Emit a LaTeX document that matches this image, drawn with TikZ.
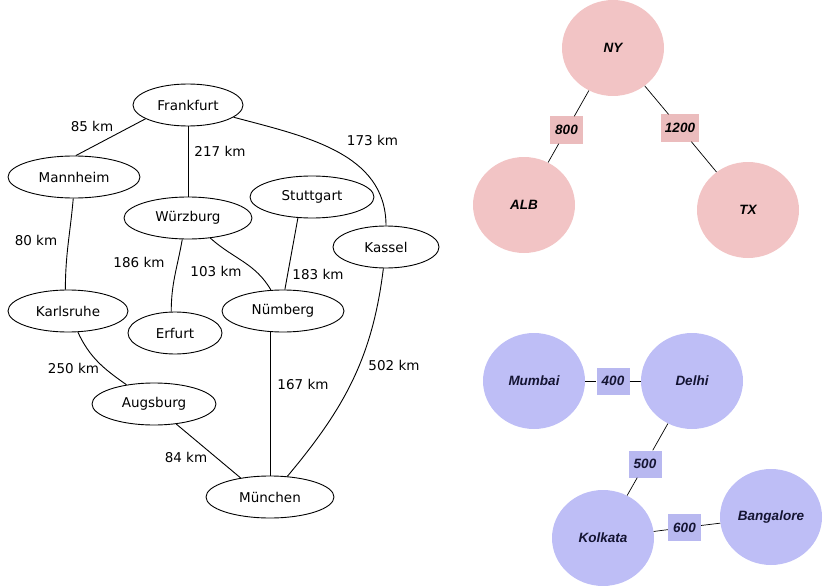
\documentclass[tikz,border=0pt]{standalone}
\usepackage{fontspec}
\setmainfont{DejaVu Sans}
\newfontfamily\lblfont{Liberation Sans}
\usetikzlibrary{shapes.geometric}
\definecolor{pinkc}{RGB}{242,196,197}
\definecolor{pinkb}{RGB}{235,188,189}
\definecolor{bluec}{RGB}{190,190,246}
\definecolor{blueb}{RGB}{184,184,240}
\definecolor{navy}{RGB}{20,20,50}
\tikzset{
  city/.style={draw, ellipse, line width=0.9pt, inner sep=0pt, font=\fontsize{13.5}{15}\selectfont},
  km/.style={font=\fontsize{13.5}{15}\selectfont, inner sep=0pt},
  road/.style={line width=0.9pt},
  disc/.style={ellipse, minimum width=102pt, minimum height=96pt, inner sep=0pt, font=\lblfont\bfseries\itshape\fontsize{13.5}{15}\selectfont},
  wbox/.style={rectangle, minimum height=27pt, minimum width=33pt, inner xsep=4pt, inner ysep=0pt, font=\lblfont\bfseries\itshape\fontsize{13.5}{15}\selectfont},
  link/.style={line width=0.7pt}
}
\begin{document}
\begin{tikzpicture}[x=1pt,y=-1pt]
\useasboundingbox (0,0) rectangle (823,586);
% left graph
\node[city, minimum width=110pt, minimum height=42pt] (fra) at (188,105) {Frankfurt};
\node[city, minimum width=132pt, minimum height=42pt] (man) at (74,177) {Mannheim};
\node[city, minimum width=128pt, minimum height=42pt] (wur) at (188,218) {Würzburg};
\node[city, minimum width=124pt, minimum height=42pt] (stu) at (312,197) {Stuttgart};
\node[city, minimum width=106pt, minimum height=42pt] (kas) at (386,247) {Kassel};
\node[city, minimum width=120pt, minimum height=42pt] (kar) at (68,311) {Karlsruhe};
\node[city, minimum width=94pt, minimum height=42pt] (erf) at (175,333) {Erfurt};
\node[city, minimum width=122pt, minimum height=42pt] (nur) at (283,311) {Nümberg};
\node[city, minimum width=124pt, minimum height=42pt] (aug) at (154,404) {Augsburg};
\node[city, minimum width=128pt, minimum height=42pt] (mun) at (270,497) {München};

\draw[road] (fra.198) -- (man.85);
\draw[road] (fra.south) -- (wur.north);
\draw[road] (fra) to[out=-15,in=90] (kas);
\draw[road] (man.268) to[out=-95,in=90] (kar.97);
\draw[road] (wur.255) to[out=-100,in=90] (erf.100);
\draw[road] (wur) to[out=-42,in=120] (nur);
\draw[road] (stu.236) -- (nur.85);
\draw[road] (kas) to[out=-97,in=50] (mun);
\draw[road] (kar) to[out=-65,in=145] (aug);
\draw[road] (nur.south -| mun.north) -- (mun.north);
\draw[road] (aug.-42) -- (mun.147);

\node[km] (l1) at (92,126) {85 km};
\node[km] (l2) at (220,151) {217 km};
\node[km] (l3) at (372.5,140) {173 km};
\node[km] (l4) at (36,240) {80 km};
\node[km] (l5) at (139,262) {186 km};
\node[km] (l6) at (216,271) {103 km};
\node[km] (l7) at (318,274) {183 km};
\node[km] (l8) at (73.5,368) {250 km};
\node[km] (l9) at (303,384) {167 km};
\node[km] (l10) at (394,365) {502 km};
\node[km] (l11) at (186,457) {84 km};

% top right
\node[disc, fill=pinkc] (ny) at (613,48) {NY};
\node[disc, fill=pinkc] (alb) at (524,205) {ALB};
\node[disc, fill=pinkc] (tx) at (748,210) {TX};
\node[wbox, fill=pinkb] (w800) at (566.5,130) {800};
\node[wbox, fill=pinkb] (w1200) at (680,128) {1200};
\draw[link] (ny) -- (w800) -- (alb);
\draw[link] (ny) -- (w1200) -- (tx);

% bottom right
\node[disc, fill=bluec, text=navy] (mum) at (534,381) {Mumbai};
\node[disc, fill=bluec, text=navy] (del) at (692,381) {Delhi};
\node[disc, fill=bluec, text=navy] (kol) at (603,538) {Kolkata};
\node[disc, fill=bluec, text=navy] (ban) at (771,517) {Bangalore};
\node[wbox, fill=blueb, text=navy] (w400) at (613,381) {400};
\node[wbox, fill=blueb, text=navy] (w500) at (645,464) {500};
\node[wbox, fill=blueb, text=navy] (w600) at (684.5,527.5) {600};
\draw[link] (mum) -- (w400) -- (del);
\draw[link] (del) -- (w500) -- (kol);
\draw[link] (kol) -- (w600) -- (ban);
\end{tikzpicture}
\end{document}
